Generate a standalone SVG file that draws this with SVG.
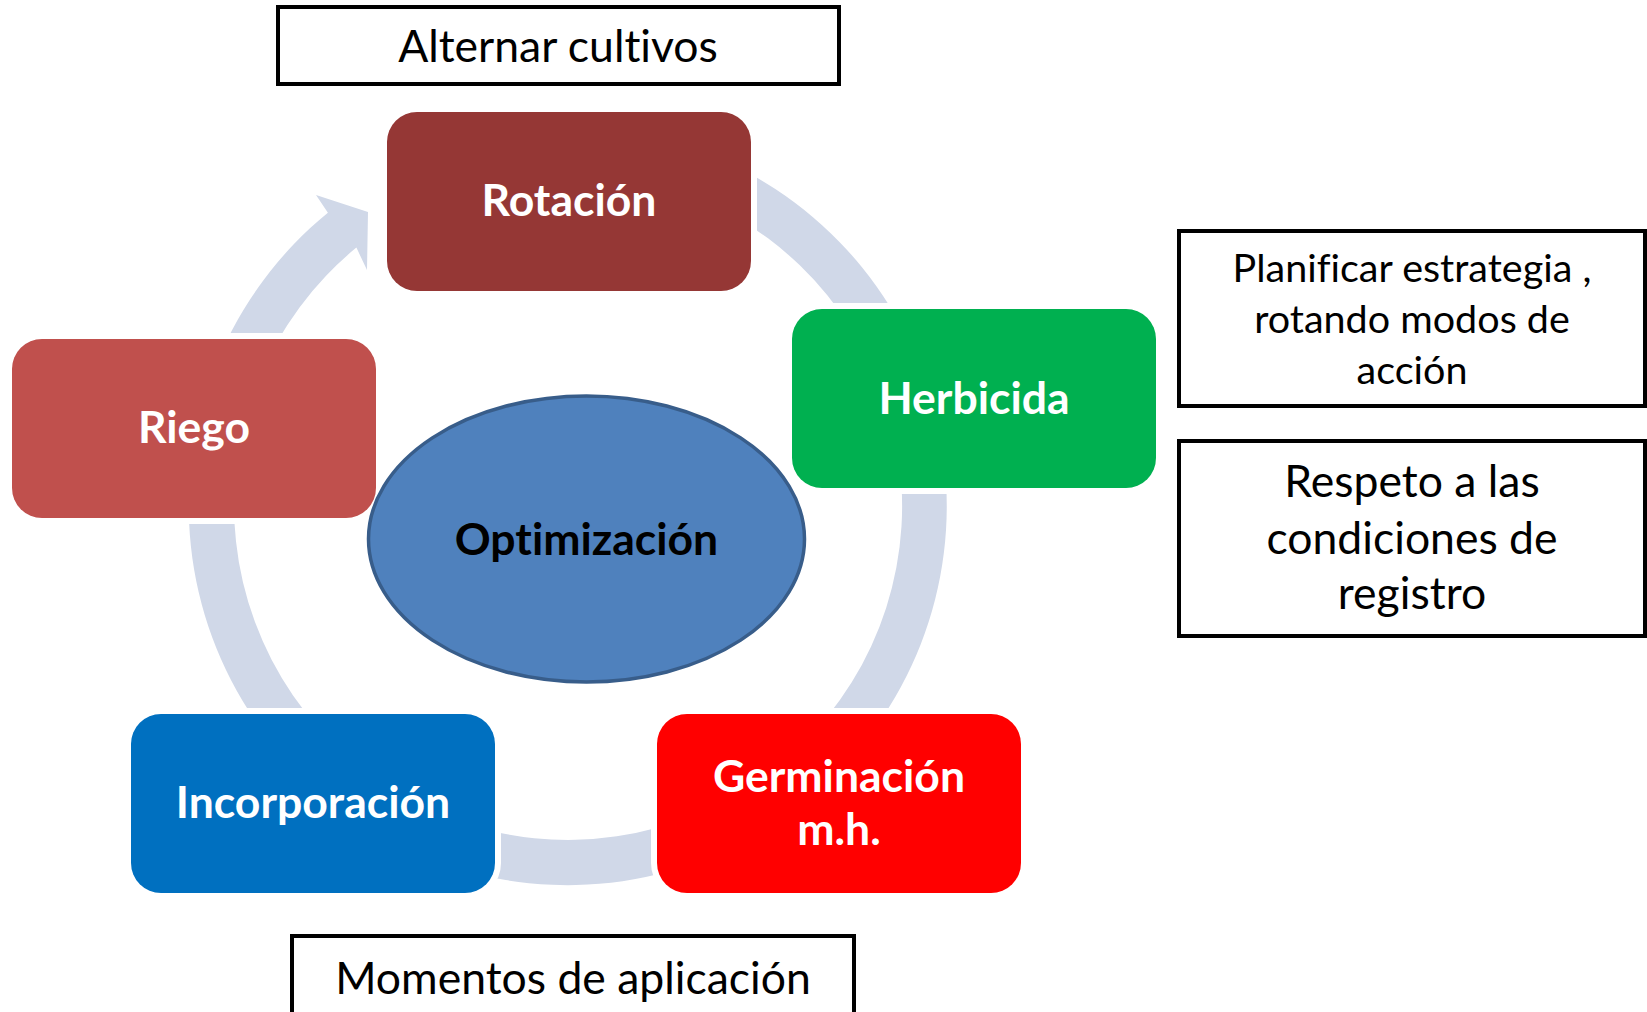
<svg xmlns="http://www.w3.org/2000/svg" width="1647" height="1012" viewBox="0 0 1647 1012">
<style>
  .node { stroke: #FFFFFF; stroke-width: 12; paint-order: stroke fill; }
  .ntext { font-family: Lato, "Liberation Sans", sans-serif; font-weight: bold; font-size: 44.5px; fill: #FFFFFF; text-anchor: middle; font-variant-ligatures: none; font-feature-settings: "liga" 0, "clig" 0; }
  .box { fill: #FFFFFF; stroke: #000000; stroke-width: 4; }
  .btext { font-family: Lato, "Liberation Sans", sans-serif; font-size: 44.5px; fill: #000000; text-anchor: middle; font-variant-ligatures: none; font-feature-settings: "liga" 0, "clig" 0; }
  .small { font-size: 39.5px; }
  .ring { fill: #D0D8E8; }
</style>
<rect x="0" y="0" width="1647" height="1012" fill="#FFFFFF"/>

<g id="connectors">
  <path class="ring" d="M 438.4 149.9 A 379 379 0 1 1 327.9 212.7 L 316 195 L 368 212 L 367 270 L 356.4 247.6 A 334 334 0 1 0 453.8 192.1 Z"/>
</g>

<g id="node-rotacion">
  <rect class="node" x="387" y="112" width="364" height="179" rx="30" ry="30" fill="#953735"/>
  <text class="ntext" x="569" y="216">Rotación</text>
</g>
<g id="node-herbicida">
  <rect class="node" x="792" y="309" width="364" height="179" rx="30" ry="30" fill="#00B050"/>
  <text class="ntext" x="974" y="414">Herbicida</text>
</g>
<g id="node-riego">
  <rect class="node" x="12" y="339" width="364" height="179" rx="30" ry="30" fill="#C0504D"/>
  <text class="ntext" x="194" y="443">Riego</text>
</g>
<g id="node-incorporacion">
  <rect class="node" x="131" y="714" width="364" height="179" rx="30" ry="30" fill="#0070C0"/>
  <text class="ntext" x="313" y="818">Incorporación</text>
</g>
<g id="node-germinacion">
  <rect class="node" x="657" y="714" width="364" height="179" rx="30" ry="30" fill="#FF0000"/>
  <text class="ntext" x="839" y="792">Germinación</text>
  <text class="ntext" x="839" y="845">m.h.</text>
</g>
<g id="node-optimizacion">
  <ellipse cx="586.5" cy="539" rx="218" ry="143" fill="#4F81BD" stroke="#385D8A" stroke-width="3.5"/>
  <text class="ntext" x="586.5" y="555" style="fill:#000000">Optimización</text>
</g>

<g id="note-alternar">
  <rect class="box" x="278" y="7" width="561" height="77"/>
  <text class="btext" x="558" y="62">Alternar cultivos</text>
</g>
<g id="note-planificar">
  <rect class="box" x="1179" y="231" width="466" height="175"/>
  <text class="btext small" x="1412" y="282">Planificar estrategia ,</text>
  <text class="btext small" x="1412" y="333">rotando modos de</text>
  <text class="btext small" x="1412" y="384">acción</text>
</g>
<g id="note-respeto">
  <rect class="box" x="1179" y="441" width="466" height="195"/>
  <text class="btext" x="1412" y="497">Respeto a las</text>
  <text class="btext" x="1412" y="554">condiciones de</text>
  <text class="btext" x="1412" y="609">registro</text>
</g>
<g id="note-momentos">
  <rect class="box" x="292" y="936" width="562" height="100"/>
  <text class="btext" x="573" y="994">Momentos de aplicación</text>
</g>
</svg>
